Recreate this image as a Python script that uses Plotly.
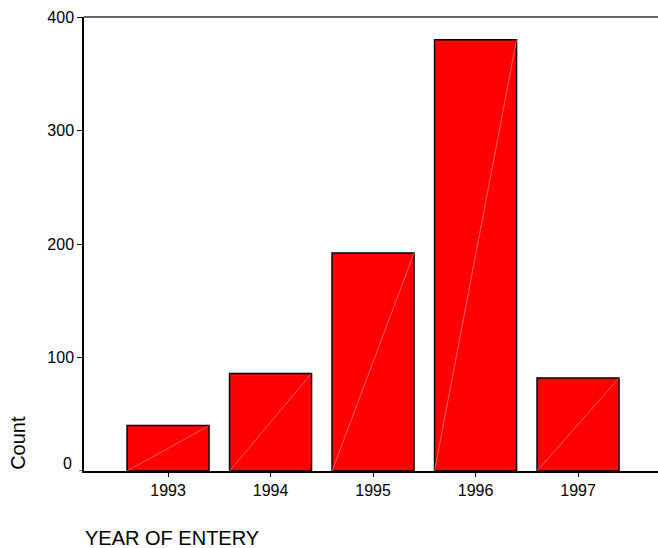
import plotly.graph_objects as go

categories = ["1993", "1994", "1995", "1996", "1997"]
counts = [40, 86, 192, 380, 82]
y_ticks = [100, 200, 300, 400]

FONT = "Liberation Sans, Arial, sans-serif"
pos = list(range(len(categories)))
bw = 0.8

fig = go.Figure()
fig.add_trace(go.Bar(
    x=pos, y=counts, width=bw,
    marker=dict(color="#ff0000", line=dict(color="#000000", width=1.5)),
    showlegend=False, hoverinfo="x+y",
))
# faint diagonal rendering artefact inside each bar
for i, v in zip(pos, counts):
    fig.add_trace(go.Scatter(
        x=[i - bw / 2, i + bw / 2], y=[0, v], mode="lines",
        line=dict(color="rgba(255,170,170,0.7)", width=0.8),
        showlegend=False, hoverinfo="skip",
    ))

fig.update_layout(
    width=658, height=548,
    margin=dict(l=84, r=0, t=17, b=77),
    paper_bgcolor="white", plot_bgcolor="white",
    font=dict(family=FONT, size=16, color="#000000"),
    bargap=0.2,
)
fig.update_xaxes(
    range=[-0.82, 4.78], tickvals=pos, ticktext=categories,
    showgrid=False, zeroline=False, showline=True, linecolor="#000000", linewidth=1.5,
    ticks="outside", ticklen=4, tickcolor="#000000", tickwidth=1,
    tickfont=dict(size=16), fixedrange=True,
)
fig.update_yaxes(
    range=[0, 400], tickvals=y_ticks, ticktext=[str(t) for t in y_ticks],
    showgrid=False, zeroline=False, showline=True, linecolor="#000000", linewidth=1.5,
    ticks="outside", ticklen=5, tickcolor="#000000", tickwidth=1,
    tickfont=dict(size=16), fixedrange=True,
)
# top frame line
fig.add_shape(type="line", xref="paper", yref="paper", x0=0, x1=1, y0=1, y1=1,
              line=dict(color="#333333", width=1.5))
# zero tick and its label (label sits slightly above the tick)
fig.add_shape(type="line", xref="paper", yref="y", x0=-0.0087, x1=0, y0=0, y1=0,
              line=dict(color="#000000", width=1))
fig.add_annotation(text="0", xref="paper", yref="y", x=0, y=0, xanchor="right",
                   yanchor="middle", xshift=-10, yshift=8, showarrow=False,
                   font=dict(size=16))
fig.add_annotation(text="Count", xref="paper", yref="paper", x=-0.115, y=0.062,
                   textangle=-90, xanchor="center", yanchor="middle",
                   showarrow=False, font=dict(size=20))
fig.add_annotation(text="YEAR OF ENTERY", xref="paper", yref="paper", x=-0.002, y=-0.147,
                   xanchor="left", yanchor="middle", showarrow=False, font=dict(size=20))

fig.write_html("out.html", config={"displayModeBar": False},
               post_script="document.body.style.margin='0';")
